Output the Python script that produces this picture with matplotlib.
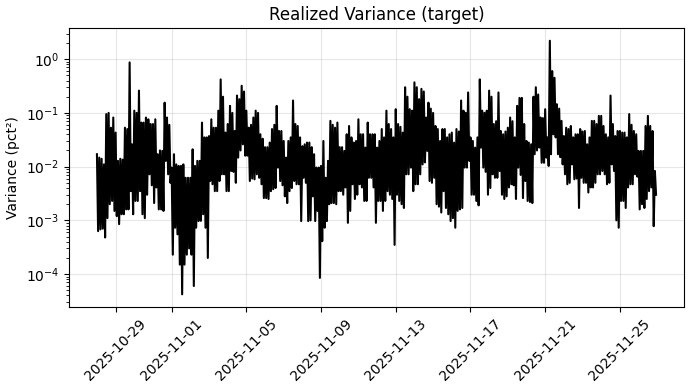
import logging

import matplotlib
matplotlib.use("Agg")
import matplotlib.pyplot as plt
import matplotlib.dates as mdates
import pandas as pd

logger = logging.getLogger(__name__)

# Realized variance (pct^2).
# Each 3-hour window gives a peak and a trough; the line runs peak -> trough
# every 1.5 hours, starting 2025-10-28 00:00.
START = "2025-10-28 00:00"
STEP = "90min"

peak_oct28 = [0.017, 0.0147, 0.014, 0.011, 0.095, 0.1, 0.053, 0.082, 0.043, 0.0128,
              0.014, 0.0135, 0.053, 0.05, 0.87, 0.026, 0.11, 0.1, 0.26, 0.066,
              0.066, 0.082, 0.076, 0.062, 0.062, 0.076, 0.017, 0.02, 0.0196, 0.155]
trough_oct28 = [6.3e-4, 6.8e-4, 7e-4, 4.8e-4, 1.1e-3, 2.0e-3, 2.3e-3, 1.5e-3, 1.2e-3, 8.5e-4,
                1.3e-3, 1.3e-3, 1.6e-3, 1.6e-3, 3.5e-3, 1.3e-3, 2.3e-3, 2.3e-3, 3.5e-3, 1.3e-3,
                1.1e-3, 3.0e-3, 7.2e-3, 4.5e-3, 2.1e-3, 4.1e-3, 1.6e-3, 1.6e-3, 1.5e-3, 0.0128]

peak_nov01 = [0.082, 0.06, 0.0096, 0.017, 0.011, 0.0103, 0.0103, 0.011, 6.2e-3, 6.2e-3,
              6.2e-3, 0.021, 0.0103, 0.0128, 0.0128, 0.066, 0.035, 0.035, 0.037, 0.076,
              0.053, 0.053, 0.11, 0.42, 0.2, 0.043, 0.062, 0.135, 0.1]
trough_nov01 = [7.2e-3, 5e-3, 2.3e-4, 7.3e-4, 5.5e-4, 1.5e-4, 4.2e-5, 1.5e-4, 2.3e-4, 3e-4,
                2.3e-4, 6e-5, 7.3e-4, 9.7e-4, 9.8e-4, 1.3e-3, 7.3e-4, 2.0e-4, 5.4e-3, 4.7e-3,
                3.5e-3, 3.5e-3, 5.4e-3, 7.2e-3, 7.2e-3, 3.5e-3, 3.5e-3, 8.3e-3, 8e-3]

peak_nov05 = [0.046, 0.21, 0.18, 0.32, 0.25, 0.11, 0.053, 0.06, 0.082, 0.11,
              0.1, 0.04, 0.033, 0.023, 0.023, 0.028, 0.05, 0.06, 0.135, 0.046,
              0.046, 0.03, 0.0147, 0.03, 0.035, 0.17, 0.062, 0.057, 0.035, 0.024, 0.026]
trough_nov05 = [5e-3, 0.0147, 0.02, 0.026, 0.016, 0.016, 5.4e-3, 6e-3, 5.8e-3, 7.2e-3,
                6.2e-3, 4.7e-3, 2.6e-3, 2.6e-3, 2.5e-3, 3.5e-3, 3.8e-3, 4e-3, 9.6e-3, 5.4e-3,
                4.5e-3, 2.8e-3, 2.1e-3, 3.5e-3, 4e-3, 5.4e-3, 4.7e-3, 4.7e-3, 9.7e-4, 6.2e-3, 5e-3]

peak_nov09 = [0.028, 0.028, 0.023, 0.017, 0.0096, 0.0096, 0.0103, 0.03, 6.2e-3, 0.0128,
              0.071, 0.06, 0.053, 0.066, 0.023, 0.023, 0.0196, 0.04, 0.057, 0.035,
              0.028, 0.03, 0.076, 0.04, 0.04, 0.0226, 0.066, 0.04, 0.04, 0.04]
trough_nov09 = [9.7e-4, 1.0e-3, 2.8e-3, 9.7e-4, 1.5e-3, 8.5e-5, 4.1e-4, 7.3e-4, 9.7e-4, 2.0e-3,
                2.1e-3, 2.1e-3, 2.0e-3, 3.5e-3, 3.5e-3, 3.0e-3, 4.1e-3, 9.0e-4, 1.5e-3, 4.7e-3,
                2.5e-3, 3e-3, 4.7e-3, 4.1e-3, 2.3e-3, 2.3e-3, 6.2e-3, 6.2e-3, 4.1e-3, 9.0e-4]

peak_nov13 = [0.0226, 0.03, 0.05, 0.035, 0.11, 0.062, 0.05, 0.035, 0.117, 0.062,
              0.055, 0.043, 0.30, 0.2, 0.117, 0.11, 0.37, 0.3, 0.18, 0.28,
              0.25, 0.082, 0.155, 0.12, 0.1, 0.057, 0.05, 0.03, 0.05, 0.05]
trough_nov13 = [2.3e-3, 2.3e-3, 1.5e-3, 2.3e-3, 3.5e-3, 3.0e-3, 2.5e-3, 3.5e-4, 3.0e-3, 2.3e-3,
                2.0e-3, 1.7e-3, 7.2e-3, 7.2e-3, 9.6e-3, 3.5e-3, 4.7e-3, 4.7e-3, 7.2e-3, 0.011,
                0.012, 0.0196, 5.4e-3, 5e-3, 6.2e-3, 2.0e-3, 1.8e-3, 1.4e-3, 3.5e-3, 1.7e-3]

peak_nov17 = [0.035, 0.04, 0.043, 0.028, 0.05, 0.045, 0.17, 0.11, 0.1, 0.24,
              0.035, 0.03, 0.0226, 0.035, 0.42, 0.11, 0.1, 0.11, 0.26, 0.2,
              0.062, 0.07, 0.24, 0.046, 0.04, 0.045, 0.053, 0.082, 0.07, 0.035]
trough_nov17 = [1.3e-3, 9.7e-4, 1.1e-3, 7.3e-4, 1.5e-3, 1.6e-3, 1.7e-3, 9.6e-3, 9.6e-3, 0.0128,
                3.0e-3, 3.0e-3, 2.3e-3, 1.9e-3, 0.0226, 9.6e-3, 8e-3, 3.0e-3, 4e-3, 7.2e-3,
                6.2e-3, 6.2e-3, 8.3e-3, 3.0e-3, 2.5e-3, 2.8e-3, 4.1e-3, 4.7e-3, 4.5e-3, 2.5e-3]

peak_nov21 = [0.135, 0.19, 0.19, 0.062, 0.03, 0.028, 0.026, 0.2, 0.30, 0.22,
              0.082, 0.08, 0.117, 0.035, 2.2, 0.6, 0.45, 0.145, 0.12, 0.071,
              0.037, 0.053, 0.05, 0.057, 0.035, 0.04, 0.04, 0.05, 0.045, 0.046]
trough_nov21 = [9.6e-3, 7e-3, 2.6e-3, 5.4e-3, 2.3e-3, 2.2e-3, 2.1e-3, 0.017, 0.02, 0.0226,
                0.0118, 0.0118, 0.0147, 0.0103, 0.017, 0.04, 0.035, 0.017, 0.015, 0.011,
                7.2e-3, 4.7e-3, 5e-3, 0.011, 5.8e-3, 6e-3, 1.7e-3, 6.2e-3, 5e-3, 5e-3]

peak_nov25 = [0.026, 0.035, 0.071, 0.071, 0.062, 0.088, 0.088, 0.057, 0.04, 0.035,
              0.21, 0.062, 0.037, 0.046, 0.046, 0.043, 0.043, 0.035, 0.095, 0.06,
              0.046, 0.04, 0.0196, 0.0196, 0.0196, 0.057, 0.088, 0.057, 0.046, 8.3e-3]
trough_nov25 = [3.3e-3, 4.1e-3, 4.1e-3, 5e-3, 7.2e-3, 7.2e-3, 8.3e-3, 7.2e-3, 4.7e-3, 5e-3,
                0.011, 8.3e-3, 1.0e-3, 7.3e-4, 2.3e-3, 2.3e-3, 1.7e-3, 4.1e-3, 4.7e-3, 4.7e-3,
                7.2e-3, 6.5e-3, 1.6e-3, 2.0e-3, 1.7e-3, 2.5e-3, 3.5e-3, 4.1e-3, 7.8e-4, 3e-3]


def plot_realized_variance(out_path="out.png"):
    peaks = (peak_oct28 + peak_nov01 + peak_nov05 + peak_nov09
             + peak_nov13 + peak_nov17 + peak_nov21 + peak_nov25)
    troughs = (trough_oct28 + trough_nov01 + trough_nov05 + trough_nov09
               + trough_nov13 + trough_nov17 + trough_nov21 + trough_nov25)
    rv = [v for pair in zip(peaks, troughs) for v in pair]
    times = pd.date_range(START, periods=len(rv), freq=STEP)

    fig, ax = plt.subplots(figsize=(6.94, 3.9), dpi=100)
    fig.subplots_adjust(left=0.0994, right=0.9856, top=0.928, bottom=0.2128)

    ax.plot(times, rv, color="black", linewidth=1.5)
    ax.set_yscale("log")
    ax.set_title("Realized Variance (target)")
    ax.set_ylabel("Variance (pct²)")
    ax.grid(True, alpha=0.3)

    ax.xaxis.set_major_locator(mdates.DayLocator(bymonthday=range(1, 32, 4)))
    ax.xaxis.set_major_formatter(mdates.DateFormatter("%Y-%m-%d"))
    plt.setp(ax.get_xticklabels(), rotation=45)

    fig.savefig(out_path, dpi=100)
    plt.close(fig)
    logger.info(f"Saved {out_path}")


if __name__ == "__main__":
    logging.basicConfig(level=logging.INFO)
    plot_realized_variance()
